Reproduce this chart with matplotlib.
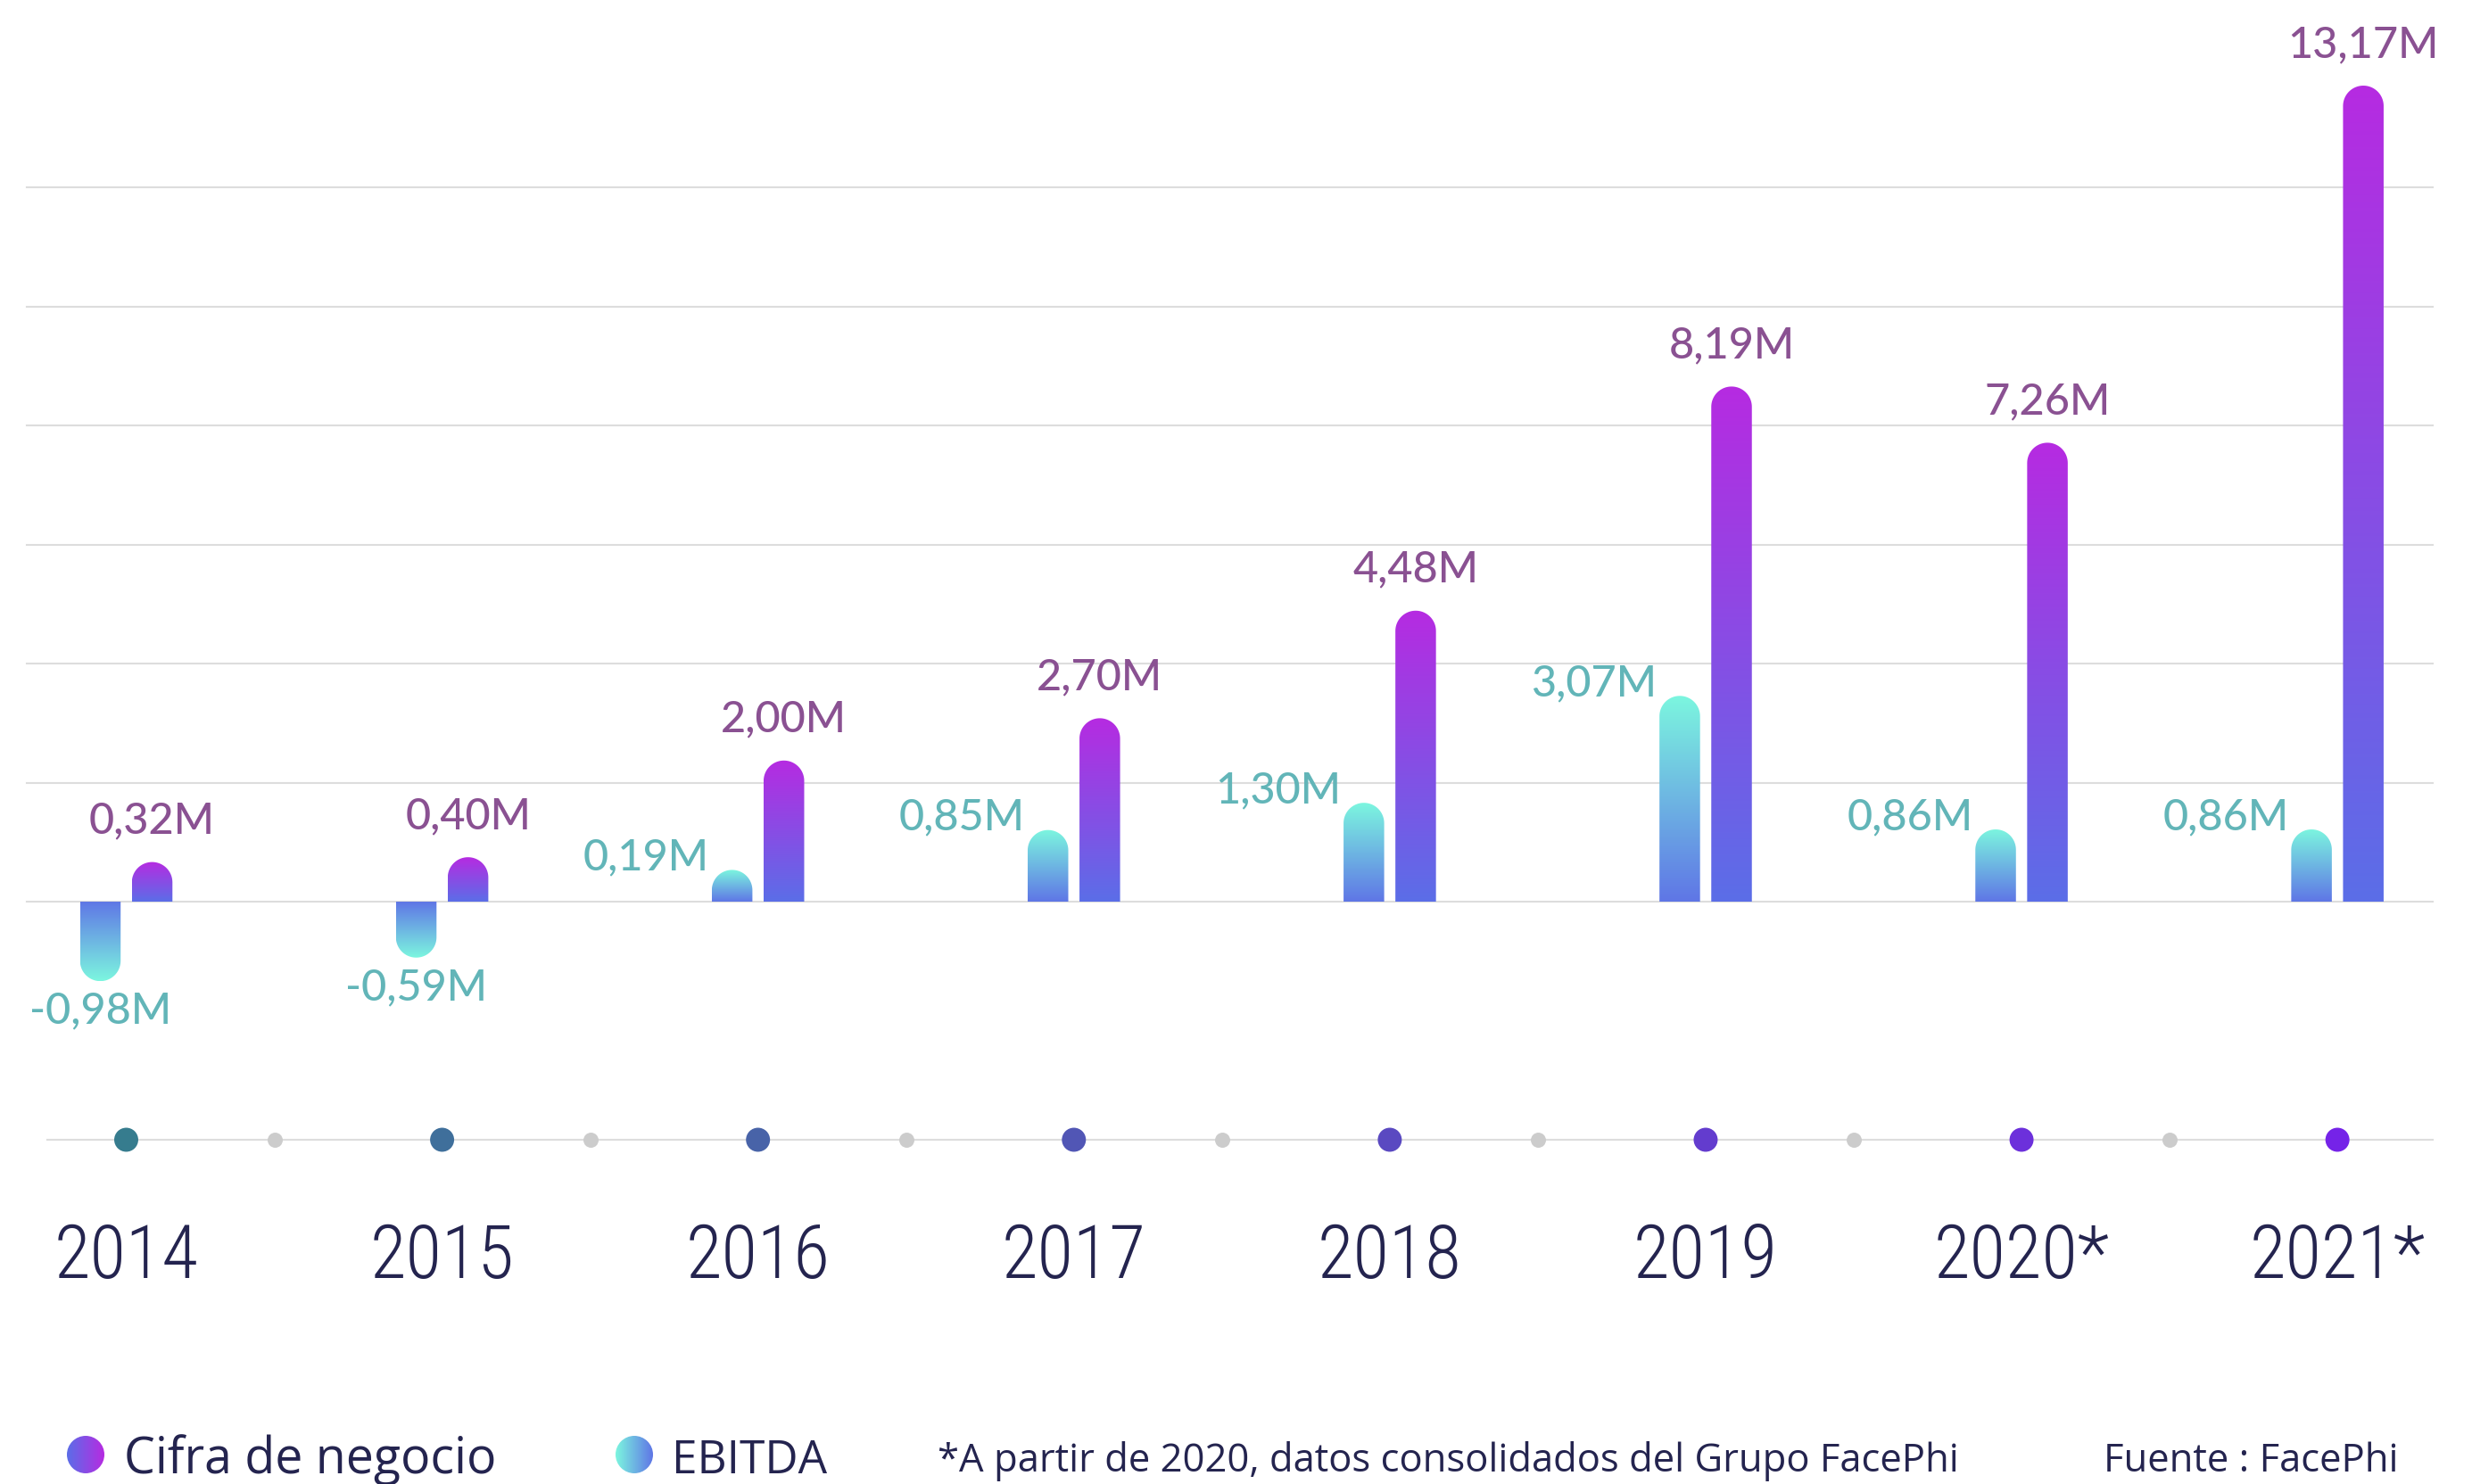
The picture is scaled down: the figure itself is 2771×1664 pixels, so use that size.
import numpy as np
import matplotlib
matplotlib.use('Agg')
import matplotlib.pyplot as plt
from matplotlib.path import Path
from matplotlib.patches import PathPatch, Ellipse
from matplotlib.colors import to_rgb
from matplotlib import font_manager as fm

years = ['2014', '2015', '2016', '2017', '2018', '2019', '2020*', '2021*']
cifra = [0.32, 0.40, 2.00, 2.70, 4.48, 8.19, 7.26, 13.17]
ebitda = [-0.98, -0.59, 0.19, 0.85, 1.30, 3.07, 0.86, 0.86]
grid_vals = np.arange(1, 7) * 1.97

# fuentes
names = {f.name for f in fm.fontManager.ttflist}
narrow = next((n for n in ['Liberation Sans Narrow', 'DejaVu Sans Condensed', 'Roboto Condensed']
               if n in names), 'Liberation Sans')
numfont = 'Lato'
txtfont = 'Open Sans'

navy = '#24244F'
c_purple_lbl = '#8A5192'
c_teal_lbl = '#62B5B8'
cifra_top, cifra_bot = '#B62BE1', '#5B6EE8'
ebit_far, ebit_near = '#7CF6DF', '#5F76E6'

W, H, DPI = 2771, 1664, 200
fig = plt.figure(figsize=(W / DPI, H / DPI), dpi=DPI, facecolor='white')
ax = fig.add_axes([0, 0, 1, 1])
ax.set_axis_off()
xmin, xmax = -0.3996, 7.426
ymin, ymax = -9.638, 14.923
ax.set_xlim(xmin, xmax)
ax.set_ylim(ymin, ymax)
ax.autoscale(False)
px_x = W / (xmax - xmin)
px_y = H / (ymax - ymin)

bw = 0.1285      # ancho barra
off = 0.082      # separacion
ry = (bw * px_x / 2) / px_y   # radio del extremo redondeado (unidades y)


def grad(c0, c1, n=256, horizontal=False):
    a = np.linspace(0, 1, n)[:, None]
    arr = (1 - a) * np.array(to_rgb(c0)) + a * np.array(to_rgb(c1))
    if horizontal:
        return arr[None, :, :]
    return arr[:, None, :]


def bar(xc, v, c_far, c_near):
    s = 1 if v >= 0 else -1
    t = np.linspace(np.pi, 0, 40)
    ax_ = xc + bw / 2 * np.cos(t)
    ay_ = v + s * ry * np.sin(t)
    verts = [(xc - bw / 2, 0)] + list(zip(ax_, ay_)) + [(xc + bw / 2, 0), (xc - bw / 2, 0)]
    codes = [Path.MOVETO] + [Path.LINETO] * (len(verts) - 2) + [Path.CLOSEPOLY]
    patch = PathPatch(Path(verts, codes), fc='none', ec='none')
    ax.add_patch(patch)
    tip = v + s * ry
    if v >= 0:
        arr = grad(c_near, c_far)
    else:
        arr = grad(c_far, c_near)
    im = ax.imshow(arr, extent=[xc - bw / 2, xc + bw / 2, min(0, tip), max(0, tip)],
                   origin='lower', aspect='auto', interpolation='bilinear', zorder=3)
    im.set_clip_path(patch)
    return tip


def fmt(v):
    return f'{v:.2f}'.replace('.', ',') + 'M'


# rejilla
for g in list(grid_vals) + [0]:
    ax.axhline(g, xmin=0.011, xmax=0.984, color='#DDDDDD', lw=0.75, zorder=1)

x = np.arange(len(years))
for i in x:
    te = bar(i - off, ebitda[i], ebit_far, ebit_near)
    tc = bar(i + off, cifra[i], cifra_top, cifra_bot)
    ax.annotate(fmt(cifra[i]), (i + off, tc), xytext=(0, 11.5), textcoords='offset points',
                ha='center', va='baseline', fontsize=17.5, family=numfont, weight='medium',
                color=c_purple_lbl)
    if ebitda[i] < 0:
        ax.annotate(fmt(ebitda[i]), (i - off, te), xytext=(0, -4), textcoords='offset points',
                    ha='center', va='top', fontsize=17.5, family=numfont, weight='medium',
                    color=c_teal_lbl)
    else:
        ax.annotate(fmt(ebitda[i]), (i - off - bw / 2, te), xytext=(-1, 0),
                    textcoords='offset points', ha='right', va='baseline', fontsize=17.5,
                    family=numfont, weight='medium', color=c_teal_lbl)

# linea de años
def yfrac(f):
    return ymin + f * (ymax - ymin)

def xfrac(f):
    return xmin + f * (xmax - xmin)

y_row = yfrac(1 - 1278 / H)
ax.plot([xfrac(0.019), xfrac(0.984)], [y_row, y_row], color='#DDDDDD', lw=0.75, zorder=1)
c0, c1 = np.array(to_rgb('#367C8E')), np.array(to_rgb('#7523E8'))
dot_cols = [tuple(c0 + (c1 - c0) * k / (len(years) - 1)) for k in range(len(years))]
ax.scatter(x, [y_row] * len(x), s=9.7 ** 2, c=dot_cols, zorder=4, linewidths=0)
ax.scatter(x[:-1] + 0.47, [y_row] * (len(x) - 1), s=6.1 ** 2, c='#CCCCCC', zorder=4, linewidths=0)

for i, lab in enumerate(years):
    ax.text(i, yfrac(1 - 1433 / H), lab, ha='center', va='baseline', fontsize=30,
            family=narrow, weight='light', color=navy)

# leyenda
def legend_dot(fx, fy, ca, cb):
    cx, cy = xfrac(fx), yfrac(fy)
    wd, hd = 42 / px_x, 42 / px_y
    e = Ellipse((cx, cy), wd, hd, fc='none', ec='none')
    ax.add_patch(e)
    im = ax.imshow(grad(ca, cb, horizontal=True), extent=[cx - wd / 2, cx + wd / 2, cy - hd / 2, cy + hd / 2],
                   origin='lower', aspect='auto', interpolation='bilinear', zorder=3)
    im.set_clip_path(e)

legend_dot(96 / W, 1 - 1631 / H, cifra_bot, cifra_top)
legend_dot(711 / W, 1 - 1631 / H, ebit_far, ebit_near)
fig.text(139 / W, 1 - 1652 / H, 'Cifra de negocio', ha='left', va='baseline', fontsize=20,
         family=txtfont, color=navy)
fig.text(753 / W, 1 - 1652 / H, 'EBITDA', ha='left', va='baseline', fontsize=18.5,
         family=txtfont, color=navy)
fig.text(1051 / W, 1 - 1650 / H, '*A partir de 2020, datos consolidados del Grupo FacePhi',
         ha='left', va='baseline', fontsize=15.7, family=txtfont, color=navy)
fig.text(2689 / W, 1 - 1650 / H, 'Fuente : FacePhi', ha='right', va='baseline', fontsize=15.7,
         family=txtfont, color=navy)

fig.savefig('out.png', dpi=DPI, facecolor='white')
